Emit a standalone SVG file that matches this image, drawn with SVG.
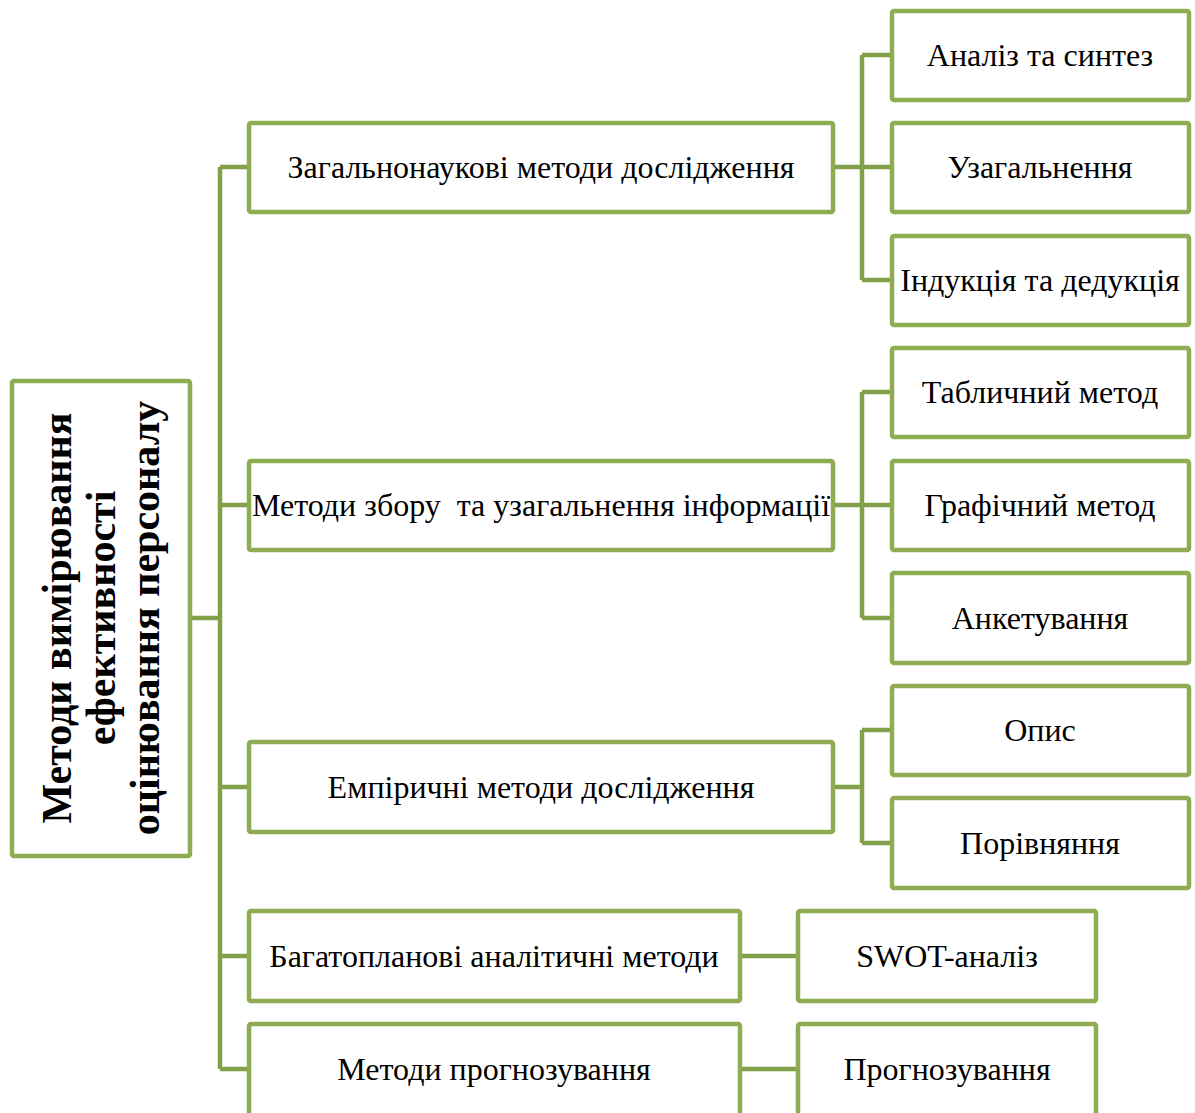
<svg xmlns="http://www.w3.org/2000/svg" width="1195" height="1113" viewBox="0 0 1195 1113">
<style>
.box{fill:#fff;stroke:#8fac52;stroke-width:4.5}
.con{fill:none;stroke:#82a04a;stroke-width:4.5}
.t{font-family:"Liberation Serif","Times New Roman",serif;font-size:32px;fill:#000;text-anchor:middle;dominant-baseline:central}
.r{font-family:"Liberation Serif","Times New Roman",serif;font-size:42px;font-weight:bold;fill:#000;text-anchor:middle;dominant-baseline:central}
</style>
<rect width="1195" height="1113" fill="#fff"/>
<g id="connectors">
<path class="con" d="M190 618H220M220 167V1069M220 167H249M220 505H249M220 787H249M220 956H249M220 1069H249"/>
<path class="con" d="M833 167H862M862 55V280M862 55H892M862 167H892M862 280H892"/>
<path class="con" d="M833 505H862M862 392V618M862 392H892M862 505H892M862 618H892"/>
<path class="con" d="M833 787H862M862 730V843M862 730H892M862 843H892"/>
<path class="con" d="M740 956H798M740 1069H798"/>
</g>
<g id="root"><rect class="box" x="12" y="381" width="178" height="475" rx="2"/>
<g transform="translate(101 618) rotate(-90)">
<text class="r" x="0" y="-44">Методи вимірювання</text>
<text class="r" x="0" y="0">ефективності</text>
<text class="r" x="0" y="44">оцінювання персоналу</text></g></g>
<g id="n1"><rect class="box" x="249" y="123" width="584" height="89" rx="2"/><text class="t" x="541" y="167">Загальнонаукові методи дослідження</text></g>
<g id="n2"><rect class="box" x="249" y="461" width="584" height="89" rx="2"/><text class="t" x="541" y="505" xml:space="preserve">Методи збору  та узагальнення інформації</text></g>
<g id="n3"><rect class="box" x="249" y="742" width="584" height="90" rx="2"/><text class="t" x="541" y="787">Емпіричні методи дослідження</text></g>
<g id="n4"><rect class="box" x="249" y="911" width="491" height="90" rx="2"/><text class="t" x="494" y="956">Багатопланові аналітичні методи</text></g>
<g id="n5"><rect class="box" x="249" y="1024" width="491" height="92" rx="2"/><text class="t" x="494" y="1069">Методи прогнозування</text></g>
<g id="c1"><rect class="box" x="892" y="11" width="297" height="89" rx="2"/><text class="t" x="1040" y="55">Аналіз та синтез</text></g>
<g id="c2"><rect class="box" x="892" y="123" width="297" height="89" rx="2"/><text class="t" x="1040" y="167">Узагальнення</text></g>
<g id="c3"><rect class="box" x="892" y="236" width="297" height="89" rx="2"/><text class="t" x="1040" y="280">Індукція та дедукція</text></g>
<g id="c4"><rect class="box" x="892" y="348" width="297" height="89" rx="2"/><text class="t" x="1040" y="392">Табличний метод</text></g>
<g id="c5"><rect class="box" x="892" y="461" width="297" height="89" rx="2"/><text class="t" x="1040" y="505">Графічний метод</text></g>
<g id="c6"><rect class="box" x="892" y="573" width="297" height="90" rx="2"/><text class="t" x="1040" y="618">Анкетування</text></g>
<g id="c7"><rect class="box" x="892" y="686" width="297" height="89" rx="2"/><text class="t" x="1040" y="730">Опис</text></g>
<g id="c8"><rect class="box" x="892" y="798" width="297" height="90" rx="2"/><text class="t" x="1040" y="843">Порівняння</text></g>
<g id="c9"><rect class="box" x="798" y="911" width="298" height="90" rx="2"/><text class="t" x="947" y="956">SWOT-аналіз</text></g>
<g id="c10"><rect class="box" x="798" y="1024" width="298" height="92" rx="2"/><text class="t" x="947" y="1069">Прогнозування</text></g>
</svg>
